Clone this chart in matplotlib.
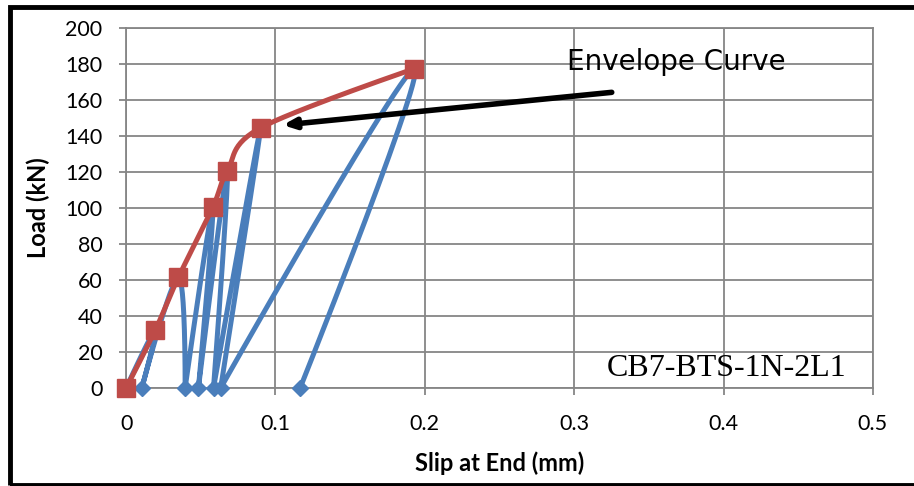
"""Load-slip curve with envelope (CB7-BTS-1N-2L1)."""
import numpy as np
import matplotlib
matplotlib.use("Agg")
import matplotlib.pyplot as plt
from matplotlib.patches import Rectangle

# cyclic test data (mm, kN)
slip_cyc = [0, 0.0194, 0.0105, 0.035, 0.0395, 0.058, 0.0484, 0.0677, 0.0585, 0.090, 0.0633, 0.193, 0.1165]
load_cyc = [0, 32, 0, 61.5, 0, 100.5, 0, 120.5, 0, 144.6, 0, 177.5, 0]
# envelope
slip_env = [0, 0.0194, 0.035, 0.058, 0.0677, 0.090, 0.193]
load_env = [0, 32, 61.5, 100.5, 120.5, 144.6, 177.5]

xticks = [0, 0.1, 0.2, 0.3, 0.4, 0.5]
xlabels = ["0", "0.1", "0.2", "0.3", "0.4", "0.5"]
yticks = list(range(0, 201, 20))

BLUE = "#4A7EBB"
RED = "#BE4B48"
GRID = "#868686"
plt.rcParams["font.family"] = ["Lato", "DejaVu Sans"]


def smooth(x, y, sharp_zero=False, n=30):
    # Excel-like smoothed line: Catmull-Rom as cubic Bezier segments
    p = np.column_stack([x, y]).astype(float)
    tan = np.zeros_like(p)
    for i in range(1, len(p) - 1):
        tan[i] = (p[i + 1] - p[i - 1]) / 6
        if sharp_zero and p[i, 1] == 0:
            tan[i] = 0  # unloading points stay as corners
    out = [p[0]]
    t = np.linspace(0, 1, n)[1:, None]
    for i in range(len(p) - 1):
        c1 = p[i] + tan[i]
        c2 = p[i + 1] - tan[i + 1]
        seg = ((1 - t) ** 3) * p[i] + 3 * ((1 - t) ** 2) * t * c1 + 3 * (1 - t) * t ** 2 * c2 + t ** 3 * p[i + 1]
        out.extend(seg)
    out = np.array(out)
    return out[:, 0], out[:, 1]


fig = plt.figure(figsize=(9.14, 4.86), dpi=100)
ax = fig.add_axes([0.138, 0.2016, 0.817, 0.7404])

bx, by = smooth(slip_cyc, load_cyc, sharp_zero=True)
ax.plot(bx, by, color=BLUE, lw=3.6, solid_joinstyle="round", zorder=3)
ax.plot(slip_cyc, load_cyc, ls="none", marker="D", ms=8.5, color=BLUE, zorder=4, clip_on=False)
rx, ry = smooth(slip_env, load_env)
ax.plot(rx, ry, color=RED, lw=3.6, zorder=5)
ax.plot(slip_env, load_env, ls="none", marker="s", ms=13, color=RED, zorder=6, clip_on=False)

ax.set_xlim(0, 0.5)
ax.set_ylim(0, 200)
ax.set_xticks(xticks)
ax.set_xticklabels(xlabels)
ax.set_yticks(yticks)
ax.grid(True, color=GRID, lw=1.3)
ax.set_axisbelow(True)
for s in ax.spines.values():
    s.set_color(GRID)
    s.set_linewidth(1.3)
ax.tick_params(colors=GRID, length=5, width=1.3, labelsize=15.5, labelcolor="black")
ax.tick_params(axis="x", pad=14)
ax.tick_params(axis="y", pad=12)

ax.set_xlabel("Slip at End (mm)", fontsize=17, fontweight="bold", va="center")
ax.set_ylabel("Load (kN)", fontsize=17, fontweight="bold", va="center")
ax.xaxis.set_label_coords(0.5, -0.208)
ax.yaxis.set_label_coords(-0.118, 0.5)

ax.text(0.482, 11, "CB7-BTS-1N-2L1", family="Liberation Serif", fontsize=23,
        ha="right", va="center", zorder=7)
ax.text(0.295, 181, "Envelope Curve", family="DejaVu Sans", fontsize=20,
        ha="left", va="center", zorder=7)
ax.annotate("", xy=(0.103, 146), xytext=(0.327, 164.5),
            arrowprops=dict(arrowstyle="-|>,head_length=0.7,head_width=0.3", color="black", lw=4),
            zorder=8)

fig.add_artist(Rectangle((10 / 914, 1 / 486), 1.0, 478 / 486, transform=fig.transFigure,
                         fill=False, ec="black", lw=3.5))

fig.savefig("out.png", dpi=100)
